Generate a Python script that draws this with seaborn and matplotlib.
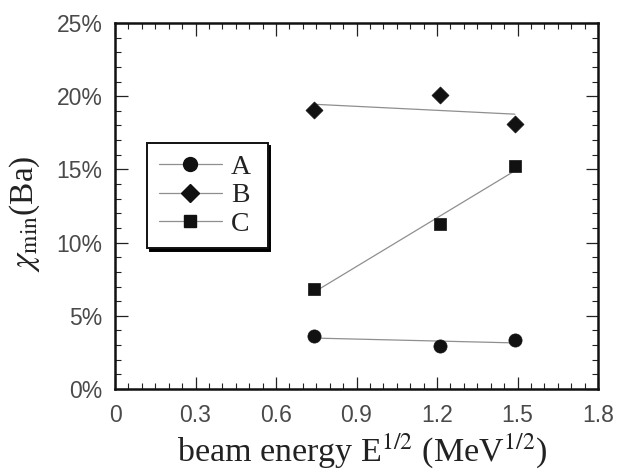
import numpy as np
import pandas as pd
import matplotlib
matplotlib.use("Agg")
import matplotlib.pyplot as plt
import seaborn as sns
from matplotlib.lines import Line2D
from matplotlib.ticker import MultipleLocator, FuncFormatter

# ---- data ----
energy = [0.74, 1.21, 1.49]
series_names = ["A", "B", "C"]
values_A = [3.6, 2.95, 3.35]
values_B = [19.05, 20.1, 18.1]
values_C = [6.8, 11.25, 15.25]
x_ticks = [0, 0.3, 0.6, 0.9, 1.2, 1.5, 1.8]
y_ticks = [0, 5, 10, 15, 20, 25]

df = pd.DataFrame({
    "x": energy * 3,
    "y": values_A + values_B + values_C,
    "series": ["A"] * 3 + ["B"] * 3 + ["C"] * 3,
})

sns.set_theme(style="white")
plt.rcParams["mathtext.fontset"] = "stix"
plt.rcParams["font.family"] = ["Liberation Sans", "DejaVu Sans"]

fig = plt.figure(figsize=(6.2, 4.71), dpi=100)
ax = fig.add_axes([115 / 620, 1 - 389 / 471, 483 / 620, 366 / 471])

markers = {"A": "o", "B": "D", "C": "s"}
msizes = {"A": 90, "B": 75, "C": 75}
line_col = "#8f8f8f"

for name in series_names:
    sub = df[df["series"] == name]
    sns.regplot(data=sub, x="x", y="y", ax=ax, ci=None, scatter=False,
                truncate=True, line_kws=dict(color=line_col, lw=0.9))
    sns.scatterplot(data=sub, x="x", y="y", ax=ax, marker=markers[name],
                    color="#111111", s=msizes[name], edgecolor="#111111",
                    linewidth=0.5, legend=False, zorder=5)

ax.set_xlim(0, 1.8)
ax.set_ylim(0, 25)
ax.set_xticks(x_ticks)
ax.set_yticks(y_ticks)
ax.xaxis.set_minor_locator(MultipleLocator(0.05))
ax.yaxis.set_minor_locator(MultipleLocator(1))
ax.xaxis.set_major_formatter(FuncFormatter(lambda v, p: "0" if v == 0 else f"{v:.1f}"))
ax.yaxis.set_major_formatter(FuncFormatter(lambda v, p: f"{v:.0f}%"))

ax.tick_params(which="both", direction="in", top=True, right=True,
               bottom=True, left=True, color="#222222")
ax.tick_params(which="major", length=9, width=0.9, labelsize=16.5,
               labelcolor="#4a4a4a")
ax.tick_params(axis="x", which="major", pad=11)
ax.tick_params(axis="y", which="major", pad=9)
ax.tick_params(which="minor", length=4.5, width=0.8)
for sp in ax.spines.values():
    sp.set_color("#111111")
    sp.set_linewidth(1.8)

ax.set_xlabel(r"beam energy E$^{1/2}$ (MeV$^{1/2}$)", fontsize=24.5,
              family="Liberation Serif", color="#222222")
ax.xaxis.set_label_coords(0.512, -0.116)
ax.set_ylabel(r"$\chi_{\rm min}$(Ba)", fontsize=24,
              family="Liberation Serif", color="#222222")
ax.yaxis.set_label_coords(-0.152, 0.48)

handles = [Line2D([], [], color=line_col, lw=0.9, marker=markers[n],
                  markersize=10 if n == "A" else 9, markerfacecolor="#111111",
                  markeredgecolor="#111111") for n in series_names]
leg = ax.legend(handles, series_names, loc="upper left", mode="expand",
                bbox_to_anchor=(0.066, 0.672, 0.25, 0.0), frameon=True,
                fancybox=False, shadow={"color": "black", "alpha": 1.0},
                prop={"family": "Liberation Serif", "size": 20},
                handlelength=2.3, handletextpad=0.3, labelspacing=0.1,
                borderpad=0.42, borderaxespad=0)
leg.get_frame().set_edgecolor("#111111")
leg.get_frame().set_linewidth(1.4)
for t in leg.get_texts():
    t.set_color("#222222")

fig.savefig("out.png", dpi=100)
